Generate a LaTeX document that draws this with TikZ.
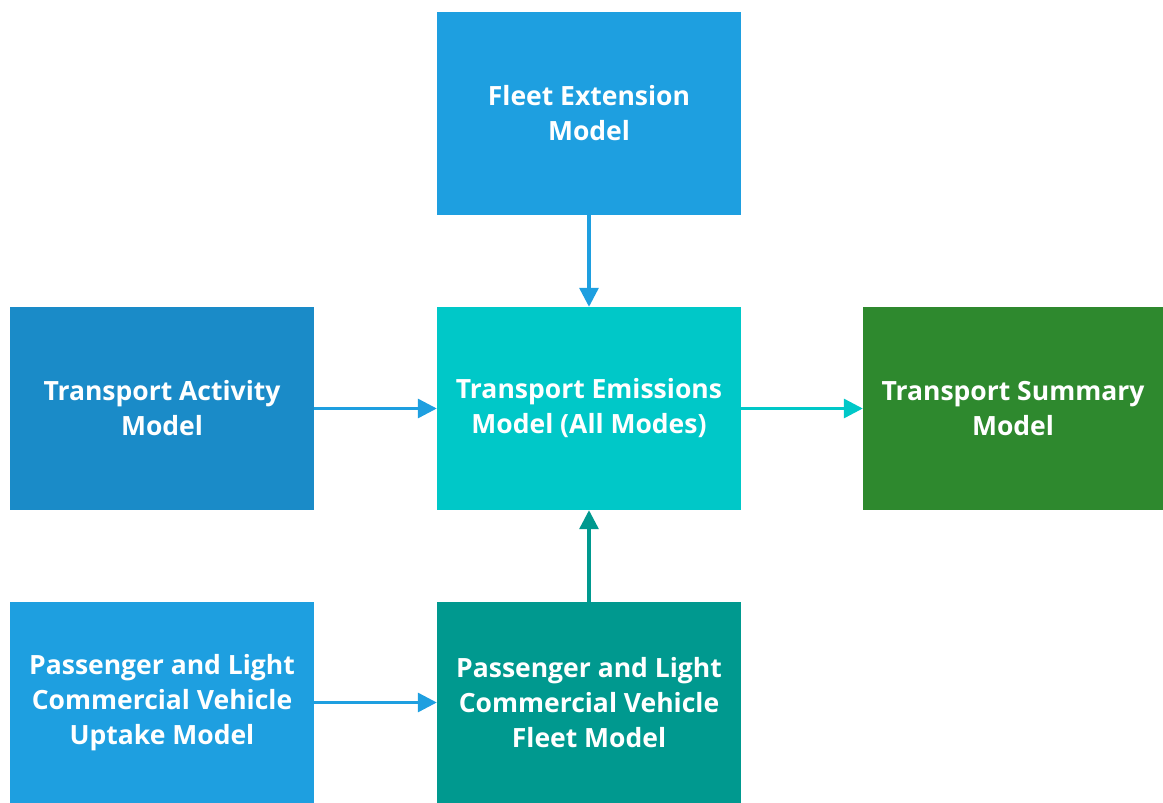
\documentclass[tikz,border=0pt]{standalone}
\usepackage{fontspec}
\setmainfont{Open Sans}
\usetikzlibrary{arrows.meta,positioning}

\definecolor{boxblue}{HTML}{1E9FE0}
\definecolor{boxdark}{HTML}{1A8BC8}
\definecolor{boxcyan}{HTML}{00C8C8}
\definecolor{boxgreen}{HTML}{2E892E}
\definecolor{boxteal}{HTML}{00998F}

\tikzset{
  modelbox/.style={rectangle,minimum width=304pt,minimum height=203pt,inner sep=0pt,
    text=white,align=center,font=\bfseries\fontsize{26.5}{35}\selectfont},
  flow/.style={line width=3.2pt,-{Triangle[length=19pt,width=19pt]}}
}

\begin{document}
\begin{tikzpicture}[x=1pt,y=-1pt]
  \useasboundingbox (0,0) rectangle (1163,803);
  \node[modelbox,fill=boxblue] (ext) at (589,113.5) {Fleet Extension\\Model};
  \node[modelbox,fill=boxdark] (act) at (162,408.5) {Transport Activity\\Model};
  \node[modelbox,fill=boxcyan] (emi) at (589,408.5) {Transport Emissions\\Model (All Modes)};
  \node[modelbox,fill=boxgreen,minimum width=300pt] (sum) at (1013,408.5) {Transport Summary\\Model};
  \node[modelbox,fill=boxblue,minimum height=201pt] (upt) at (162,702.5) {Passenger and Light\\Commercial Vehicle\\Uptake Model};
  \node[modelbox,fill=boxteal,minimum height=201pt] (flt) at (589,702.5) {Passenger and Light\\Commercial Vehicle\\Fleet Model};

  % connectors
  \draw[flow,boxblue] (ext) -- (emi);
  \draw[flow,boxblue] (act) -- (emi);
  \draw[flow,boxcyan] (emi) -- (sum);
  \draw[flow,boxteal] (flt) -- (emi);
  \draw[flow,boxblue] (upt) -- (flt);
\end{tikzpicture}
\end{document}
